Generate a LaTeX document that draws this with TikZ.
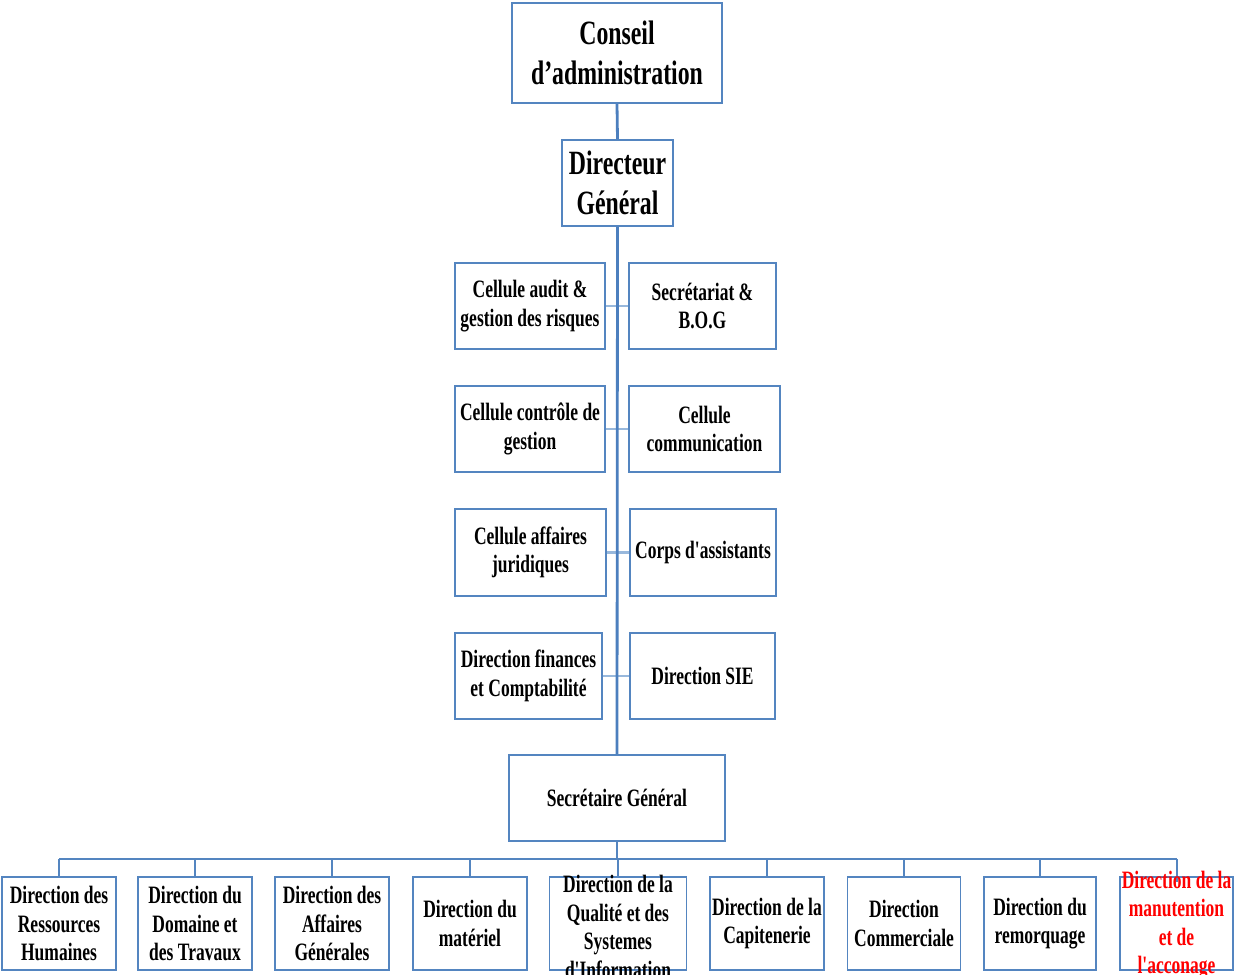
\documentclass[tikz,border=0pt]{standalone}
\usepackage{fontspec}
\newfontfamily\orgfont{Liberation Serif}[FakeStretch=0.7, Ligatures=TeXOff]
\definecolor{orgline}{RGB}{84,133,192}
\definecolor{orgbar}{RGB}{76,127,190}
\definecolor{orglink}{RGB}{152,184,220}
\definecolor{orgred}{RGB}{255,0,0}
\begin{document}
\begin{tikzpicture}[x=1pt,y=-1pt,
  box/.style={draw=orgline, line width=1.8pt, fill=white, inner sep=0pt, align=center,
    font=\orgfont\bfseries\fontsize{25}{28.5}\selectfont},
  big/.style={font=\orgfont\bfseries\fontsize{34}{40}\selectfont},
  txt/.style={inner sep=0pt, align=center, font=\orgfont\bfseries\fontsize{25}{28.5}\selectfont},
  bar/.style={draw=orgbar, line width=2.8pt},
  link/.style={draw=orglink, line width=2.6pt},
  conn/.style={draw=orgline, line width=2pt}]
\useasboundingbox (0,0) rectangle (1235,975);

% top of the hierarchy
\node[box,big,minimum width=210pt,minimum height=100pt] (ca) at (617,53) {Conseil\\d’administration};
\node[box,big,minimum width=111pt,minimum height=86pt] (dg) at (617.5,183) {Directeur\\Général};

% staff units attached to the Directeur Général
\node[box,minimum width=150pt,minimum height=86pt] (a1) at (530,306) {Cellule audit \&\\gestion des risques};
\node[box,minimum width=147pt,minimum height=86pt] (b1) at (702.5,306) {Secrétariat \&\\B.O.G};
\node[box,minimum width=150pt,minimum height=86pt] (a2) at (530,429) {Cellule contrôle de\\gestion};
\node[box,minimum width=151pt,minimum height=86pt] (b2) at (704.5,429) {Cellule\\communication};
\node[box,minimum width=151pt,minimum height=87pt] (a3) at (530.5,552.5) {Cellule affaires\\juridiques};
\node[box,minimum width=146pt,minimum height=87pt] (b3) at (703,552.5) {Corps d'assistants};
\node[box,minimum width=147pt,minimum height=86pt] (a4) at (528.5,676) {Direction finances\\et Comptabilité};
\node[box,minimum width=145pt,minimum height=86pt] (b4) at (702.5,676) {Direction SIE};

\node[box,minimum width=216pt,minimum height=86pt] (sg) at (617,798) {Secrétaire Général};

% operational directions
\node[box,minimum width=114pt,minimum height=93pt] (d1) at (59,923.5) {Direction des\\Ressources\\Humaines};
\node[box,minimum width=114pt,minimum height=93pt] (d2) at (195,923.5) {Direction du\\Domaine et\\des Travaux};
\node[box,minimum width=114pt,minimum height=93pt] (d3) at (332,923.5) {Direction des\\Affaires\\Générales};
\node[box,minimum width=114pt,minimum height=93pt] (d4) at (470,923.5) {Direction du\\matériel};
\node[box,minimum width=137pt,minimum height=93pt] (d5) at (618,923.5) {};
\node[box,minimum width=114pt,minimum height=93pt] (d6) at (767,923.5) {Direction de la\\Capitenerie};
\node[box,minimum width=113pt,minimum height=93pt] (d7) at (904,923.5) {Direction\\Commerciale};
\node[box,minimum width=112pt,minimum height=93pt] (d8) at (1040,923.5) {Direction du\\remorquage};
\node[box,minimum width=113pt,minimum height=93pt] (d9) at (1176.5,923.5) {};

% connectors
\foreach \i in {1,...,4} { \draw[link] (a\i.east) -- (b\i.west); }
\draw[bar] (ca.south) -- (dg.north);
\draw[bar] (dg.south) -- (sg.north);

\coordinate (busL) at (59,859);
\coordinate (busR) at (1177,859);
\draw[conn] (busL) -- (busR);
\draw[conn] (sg.south) -- (sg.south |- busL);
\foreach \i in {1,...,8} { \draw[conn] (d\i.north |- busL) -- (d\i.north); }
\draw[conn] (busR) -- ([yshift=-6pt]busR |- d9.north);

% labels that run past their frames
\node[txt] (d5t) at (618,927) {Direction de la\\Qualité et des\\Systemes\\d'Information};
\node[txt,text=orgred] (d9t) at (1176.5,925) {Direction de la\\manutention\\et de\\l'acconage};
\end{tikzpicture}
\end{document}
